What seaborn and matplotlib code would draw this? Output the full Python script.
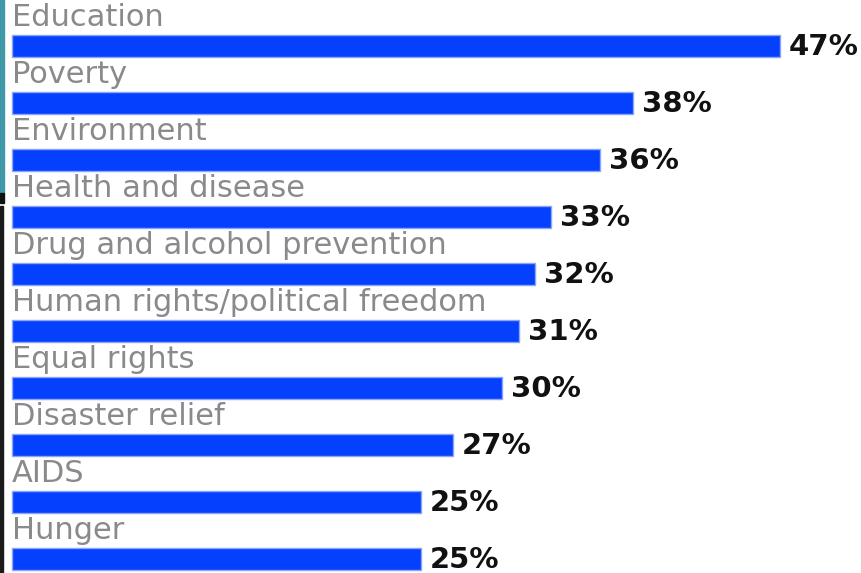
import matplotlib
matplotlib.use("Agg")
import matplotlib.pyplot as plt
import matplotlib.patches as mpatches
import seaborn as sns
import pandas as pd

causes = ["Education", "Poverty", "Environment", "Health and disease",
          "Drug and alcohol prevention", "Human rights/political freedom",
          "Equal rights", "Disaster relief", "AIDS", "Hunger"]
shares = [47, 38, 36, 33, 32, 31, 30, 27, 25, 25]

df = pd.DataFrame({"cause": causes, "share": shares})

sns.set_theme(style="white")
plt.rcParams["font.family"] = ["DejaVu Sans"]

W, H = 861, 573
fig = plt.figure(figsize=(W / 100, H / 100), dpi=100)
ax = fig.add_axes([0, 0, 1, 1])

bar_blue = "#0540FF"
sns.barplot(data=df, x="share", y="cause", orient="h", color=bar_blue,
            saturation=1, width=0.39, edgecolor="#8aa4f7", linewidth=1.0, ax=ax)

# pixel geometry: 0% sits 12px from the left, ~16.34px per percentage point
px_per = 16.34
ax.set_xlim(-12 / px_per, (W - 12) / px_per)
pitch = 57.0
first_center = 46.0
ax.set_ylim((H - first_center) / pitch, -first_center / pitch)

for i, (name, val) in enumerate(zip(causes, shares)):
    ax.text(0, i - 0.35, name, color="#8a8a8a", fontsize=22,
            va="baseline", ha="left")
    ax.text(val + 0.55, i + 0.16, f"{val}%", color="#111111", fontsize=21,
            fontweight="bold", va="baseline", ha="left")

ax.set_axis_off()

# thin strips along the left edge
fig.patches.append(mpatches.Rectangle((0, 1 - 193 / H), 4 / W, 193 / H,
                                      transform=fig.transFigure, color="#3f97a8"))
fig.patches.append(mpatches.Rectangle((0, 1 - 203 / H), 4 / W, 10 / H,
                                      transform=fig.transFigure, color="#111111"))
fig.patches.append(mpatches.Rectangle((0, 0), 3 / W, 1 - 206 / H,
                                      transform=fig.transFigure, color="#1a1a1a"))

fig.savefig("out.png", dpi=100)
